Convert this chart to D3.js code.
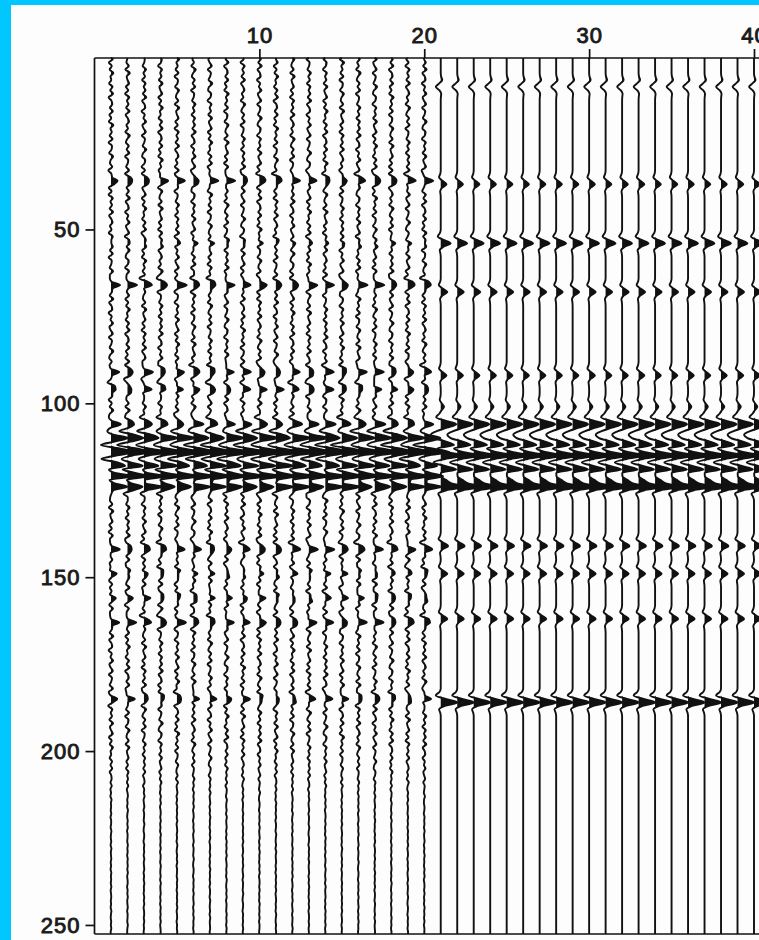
<!DOCTYPE html>
<html><head><meta charset="utf-8">
<script src="https://cdn.jsdelivr.net/npm/d3@7/dist/d3.min.js"></script>
<style>
html,body{margin:0;padding:0;background:#00c8ff;overflow:hidden}
svg{display:block}
</style></head><body>
<svg id="chart" width="759" height="940"></svg>
<script>
// ---- data ----
const traceNumbers = [1,2,3,4,5,6,7,8,9,10,11,12,13,14,15,16,17,18,19,20,21,22,23,24,25,26,27,28,29,30,31,32,33,34,35,36,37,38,39,40,41];
const noisyTraceLast = 20;
const xTickValues = [10,20,30,40];
const yTickValues = [50,100,150,200,250];
const timeDomain = [0.7, 252.6];

// left half (noisy) reflections
const leftEventTimes = [36, 54, 66, 91, 96, 106, 110, 114, 118, 121, 124, 142, 149, 156, 163, 185];
const leftEventAmps  = [0.4, 0.12, 0.45, 0.4, 0.35, 0.5, 1.0, 1.5, 1.0, 1.4, 1.0, 0.4, 0.2, 0.25, 0.4, 0.3];
// right half (clean) reflections
const rightEventTimes = [9, 37, 54, 68, 92, 101, 106, 109, 112, 115, 119, 122, 124, 141, 149, 162, 186];
const rightEventAmps  = [-0.3, 0.35, 0.6, 0.4, 0.35, 0.2, 0.9, -0.5, 0.9, 1.4, 1.0, 0.8, 1.5, 0.45, 0.4, 0.4, 1.0];

const wavelet = [-0.08, -0.3, 0.3, 1.0, 0.25, -0.1, -0.03];
const noiseValues = [0.6,-0.4,0.9,-0.7,0.2,0.5,-0.9,0.3,-0.2,0.8,-0.6,-0.1,0.7,-0.8,0.4,0.1,-0.5,0.9,-0.3,-0.7,0.5,0.2,-0.9,0.6,-0.1,0.4,-0.6,0.8,-0.4,0.0,0.7,-0.8,0.3,-0.5,0.9,-0.2,0.1,-0.7,0.6,-0.3,0.8,-0.9,0.2,0.5,-0.4,0.7,-0.6,0.1,-0.8,0.9,-0.2,0.3,-0.5,0.6,-0.9,0.4,0.2,-0.7,0.8,-0.1,-0.4,0.5,-0.8,0.9,-0.3,0.0,0.6,-0.6,0.3,-0.9,0.7,-0.2,0.4,-0.5,0.8,-0.7,0.1,0.6,-0.4,0.2,-0.8,0.9,-0.1,-0.6,0.5,-0.3,0.7,-0.9,0.3,0.1,-0.5,0.8,-0.2,0.4,-0.7,0.6,-0.1];
const noiseEnvTimes  = [0, 195, 215, 253];
const noiseEnvLevels = [1, 1, 0.2, 0.15];
const noiseScale = 0.16;

// ---- chart ----
const svg = d3.select("#chart");
svg.append("rect").attr("x",11).attr("y",5).attr("width",748).attr("height",935).attr("fill","#fdfdfd");

const x = d3.scaleLinear().domain([0, 40]).range([94.5, 754]);
const y = d3.scaleLinear().domain(timeDomain).range([58, 934]);
const dx = x(1) - x(0);
const env = d3.scaleLinear().domain(noiseEnvTimes).range(noiseEnvLevels).clamp(true);

const sampleTimes = d3.range(1, 253);
const half = (wavelet.length - 1) / 2;

function traceSamples(k) {
  const noisy = k <= noisyTraceLast;
  const times = noisy ? leftEventTimes : rightEventTimes;
  const amps = noisy ? leftEventAmps : rightEventAmps;
  const pts = sampleTimes.map(t => {
    let v = 0;
    times.forEach((te, i) => {
      const j = t - te + half;
      if (j >= 0 && j < wavelet.length) v += amps[i] * wavelet[j];
    });
    if (noisy) v += noiseScale * env(t) * noiseValues[(t + k * 29) % noiseValues.length];
    return {t, v};
  });
  pts.unshift({t: timeDomain[0], v: 0});
  pts.push({t: timeDomain[1], v: 0});
  return pts;
}

const g = svg.append("g");
const traces = traceNumbers.map(k => ({k, pts: traceSamples(k)}));

const area = d3.area().curve(d3.curveMonotoneY);
const line = d3.line().curve(d3.curveMonotoneY);

g.selectAll("path.fill").data(traces).join("path")
  .attr("class","fill")
  .attr("fill","#111")
  .attr("d", d => area
      .x0(() => x(d.k))
      .x1(p => x(d.k) + Math.max(0, p.v) * dx)
      .y(p => y(p.t))(d.pts));

g.selectAll("path.wig").data(traces).join("path")
  .attr("class","wig")
  .attr("fill","none")
  .attr("stroke","#111")
  .attr("stroke-width",1.9)
  .attr("d", d => line.x(p => x(d.k) + p.v * dx).y(p => y(p.t))(d.pts));

// frame
const frame = svg.append("g").attr("stroke","#111").attr("stroke-width",1.7);
frame.append("line").attr("x1",x(0)).attr("x2",759).attr("y1",y(timeDomain[0])).attr("y2",y(timeDomain[0]));
frame.append("line").attr("x1",x(0)).attr("x2",759).attr("y1",y(timeDomain[1])).attr("y2",y(timeDomain[1]));
frame.append("line").attr("x1",x(0)).attr("x2",x(0)).attr("y1",y(timeDomain[0])).attr("y2",y(timeDomain[1]));

// axes
const topAxis = svg.append("g").attr("transform",`translate(0,${y(timeDomain[0])})`)
  .call(d3.axisTop(x).tickValues(xTickValues).tickSize(9).tickPadding(6).tickFormat(d3.format("d")));
const leftAxis = svg.append("g").attr("transform",`translate(${x(0)},0)`)
  .call(d3.axisLeft(y).tickValues(yTickValues).tickSize(9).tickPadding(5).tickFormat(d3.format("d")));
[topAxis, leftAxis].forEach(a => {
  a.select(".domain").remove();
  a.selectAll(".tick line").attr("stroke","#111").attr("stroke-width",1.7);
  a.selectAll(".tick text")
    .attr("fill","#1a1a1a").attr("stroke","#1a1a1a").attr("stroke-width",0.9)
    .style("font-family","'Liberation Sans', Arial, sans-serif")
    .style("font-size","22px")
    .style("letter-spacing","1px");
});
</script>
</body></html>
